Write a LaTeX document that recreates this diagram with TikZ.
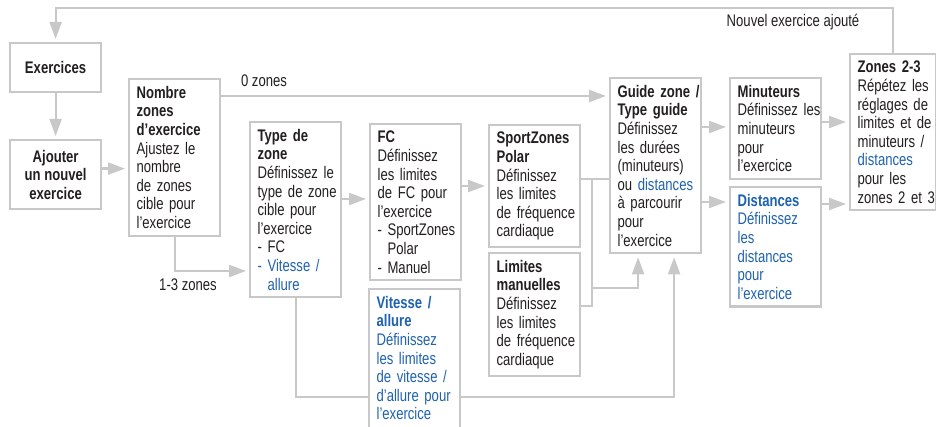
\documentclass[tikz,border=0pt]{standalone}
\usepackage{fontspec}
\setmainfont{Liberation Sans}[FakeStretch=0.78]
\usetikzlibrary{arrows.meta,backgrounds}
\definecolor{linegray}{HTML}{C8C8C8}
\definecolor{txtblack}{HTML}{231F20}
\definecolor{zoneblue}{HTML}{1F62AE}
\hyphenpenalty=10000
\exhyphenpenalty=10000
\newcommand{\bluetxt}[1]{\textcolor{zoneblue}{#1}}
\tikzset{
  stepbox/.style={draw=linegray,line width=1.1pt,fill=white,anchor=north west,align=left,text width=38pt,inner xsep=3.75pt,inner ysep=3.5pt,text=txtblack,font=\fontsize{8.4}{9.3}\selectfont},
  startbox/.style={draw=linegray,line width=1.1pt,fill=white,anchor=north west,align=center,minimum width=45.5pt,inner sep=3.5pt,text=txtblack,font=\fontsize{8.4}{9.3}\selectfont\bfseries},
  flowarr/.style={color=linegray,line width=1.1pt,-{Triangle[length=8.5pt,width=6pt]},shorten >=1.5pt},
  flowline/.style={color=linegray,line width=1.1pt},
  lbl/.style={text=txtblack,font=\fontsize{8.4}{9.3}\selectfont,inner sep=1pt}
}
\begin{document}
\begin{tikzpicture}[x=0.5pt,y=-0.5pt]
  \useasboundingbox (0,0) rectangle (936,427);
  % boxes
  \node[startbox,minimum height=24.5pt] (exer) at (9,42) {Exercices};
  \node[startbox,minimum height=34.5pt] (ajout) at (9,139) {Ajouter\\un nouvel\\exercice};
  \node[stepbox] (nombre) at (128,78) {{\bfseries Nombre\\zones\\d’exercice}\\Ajustez~le\\nombre\\de~zones\\cible~pour\\l’exercice};
  \node[stepbox] (type) at (249,121) {{\bfseries Type~de\\zone}\\Définissez~le\\type~de~zone\\cible~pour\\l’exercice\\-~FC\\\bluetxt{-~Vitesse~/}\\\bluetxt{\phantom{-~}allure}};
  \node[stepbox] (fc) at (369,123) {{\bfseries FC}\\Définissez\\les~limites\\de~FC~pour\\l’exercice\\-~SportZones\\\phantom{-~}Polar\\-~Manuel};
  \node[stepbox,text=zoneblue] (vitesse) at (368,288) {{\bfseries Vitesse~/\\allure}\\Définissez\\les~limites\\de~vitesse~/\\d’allure~pour\\l’exercice\strut};
  \node[stepbox] (sport) at (488,124) {{\bfseries SportZones\\Polar}\\Définissez\\les~limites\\de~fréquence\\cardiaque};
  \node[stepbox] (limites) at (488,252) {{\bfseries Limites\\manuelles}\\Définissez\\les~limites\\de~fréquence\\cardiaque};
  \node[stepbox] (guide) at (609,77) {{\bfseries Guide~zone~/\\Type~guide}\\Définissez\\les~durées\\(minuteurs)\\ou~\bluetxt{distances}\\à~parcourir\\pour\\l’exercice};
  \node[stepbox] (minut) at (729,77) {{\bfseries Minuteurs}\\Définissez~les\\minuteurs\\pour\\l’exercice};
  \node[stepbox,text=zoneblue] (dist) at (729,186) {{\bfseries Distances}\\Définissez\\les\\distances\\pour\\l’exercice};
  \node[stepbox,text width=35.5pt] (zones) at (849,53) {{\bfseries Zones~2-3}\\Répétez~les\\réglages~de\\limites~et~de\\minuteurs~/\\\bluetxt{distances}\\pour~les\\zones~2~et~3};
  % labels
  \node[lbl] (newex) at (793,22) {Nouvel exercice ajouté};
  \node[lbl] (zero) at (264,81) {0 zones};
  \node[lbl] (onethree) at (188,285) {1-3 zones};
  % connectors
  \draw[flowarr] (zones.north) |- ([yshift=17pt]exer.north) -- (exer.north);
  \draw[flowarr] (exer) -- (ajout);
  \draw[flowarr] ([yshift=3pt]ajout.east) -- ([yshift=3pt]ajout.east -| nombre.west);
  \draw[flowarr] ([yshift=-9pt]nombre.north east) -- ([yshift=-9pt]nombre.north east -| guide.west);
  \draw[flowarr] (nombre.south) |- ([yshift=-75pt]type.north west);
  \draw[flowarr] ([yshift=-38pt]type.east |- fc.north west) -- ([yshift=-38pt]fc.north west);
  \draw[flowarr] ([yshift=-31pt]fc.east |- sport.north west) -- ([yshift=-31pt]sport.north west);
  \draw[flowline] ([yshift=-27.5pt]sport.north east) -- ([yshift=-27.5pt]sport.north east -| guide.west);
  \coordinate (jtop) at ([xshift=5.5pt,yshift=-27.5pt]sport.north east);
  \coordinate (jbot) at ([xshift=5.5pt,yshift=-27pt]limites.north east);
  \coordinate (jmid) at ([xshift=5.5pt,yshift=-18pt]limites.north east);
  \draw[flowline] (jtop) -- (jbot) -- (jbot -| limites.east);
  \draw[flowarr] (jmid) -| ([xshift=-8.75pt]guide.south);
  \begin{scope}[on background layer]
    \draw[flowarr] (type.south) |- ([yshift=-54.5pt]vitesse.north west) -| ([xshift=9.25pt]guide.south);
  \end{scope}
  \draw[flowarr] ([yshift=-25pt]guide.east |- minut.north west) -- ([yshift=-25pt]minut.north west);
  \draw[flowarr] ([yshift=-8pt]guide.east |- dist.north west) -- ([yshift=-8pt]dist.north west);
  \draw[flowarr] ([yshift=-22.5pt]minut.north east) -- ([yshift=-22.5pt]minut.north east -| zones.west);
  \draw[flowarr] ([yshift=-9pt]dist.north east) -- ([yshift=-9pt]dist.north east -| zones.west);
\end{tikzpicture}
\end{document}
